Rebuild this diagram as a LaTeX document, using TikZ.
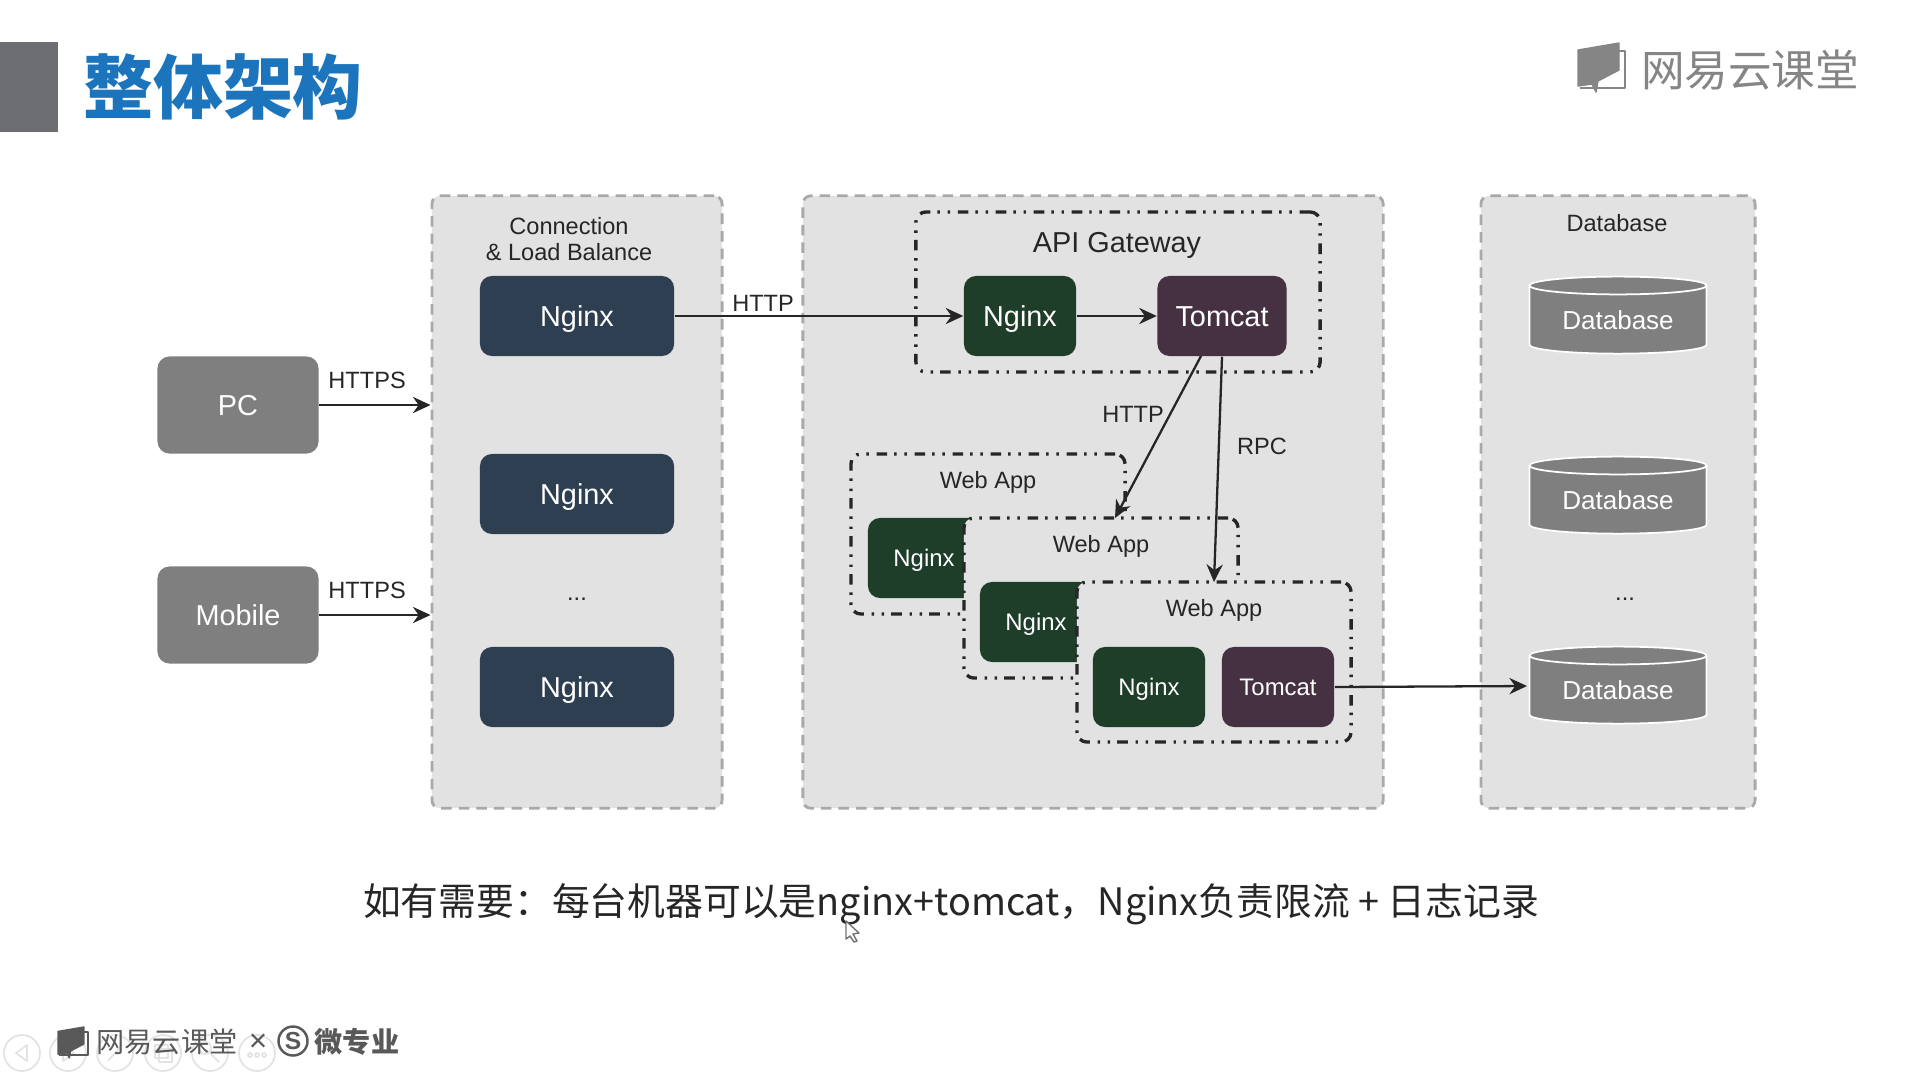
\documentclass[tikz,border=0pt]{standalone}
\usepackage{fontspec}
\setmainfont{Liberation Sans}
\newfontfamily\cjk{Noto Sans CJK SC}
\usetikzlibrary{arrows.meta,shapes.geometric}
\definecolor{panelgray}{HTML}{E2E2E2}
\definecolor{dashgray}{HTML}{A9A9A9}
\definecolor{boxgray}{HTML}{7F7F7F}
\definecolor{slategray}{HTML}{6D6E71}
\definecolor{navy}{HTML}{2F3F52}
\definecolor{forest}{HTML}{1F3E2A}
\definecolor{plum}{HTML}{453142}
\definecolor{titleblue}{HTML}{1C75BC}
\definecolor{logogray}{HTML}{858585}
\definecolor{logodark}{HTML}{595959}
\begin{document}
\begin{tikzpicture}[
    x=0.01cm,
    y=-0.01cm,
    line join=round,
    panel/.style={draw=dashgray,fill=panelgray,line width=0.8pt,dash pattern=on 3pt off 2pt,rounded corners=0.08cm,inner sep=0pt},
    groupbox/.style={draw=black!85,fill=panelgray,line width=0.95pt,dash pattern=on 3pt off 2.2pt on 0.7pt off 2.2pt on 0.7pt off 2pt,rounded corners=0.1cm,inner sep=0pt,minimum width=2.74cm,minimum height=1.6cm},
    card/.style={rounded corners=0.12cm,text=white,inner sep=0pt,font=\fontsize{8.2}{10}\selectfont,text height=5.9pt,text depth=0pt},
    pcbox/.style={card,fill=boxgray,minimum width=1.61cm,minimum height=0.97cm},
    lbnginx/.style={card,fill=navy,minimum width=1.94cm,minimum height=0.8cm},
    smallnginx/.style={card,fill=forest,minimum width=1.12cm,minimum height=0.8cm,font=\fontsize{6.8}{8}\selectfont,text height=4.9pt},
    smalltomcat/.style={card,fill=plum,minimum width=1.12cm,minimum height=0.8cm,font=\fontsize{6.8}{8}\selectfont,text height=4.9pt},
    dbnode/.style={cylinder,shape border rotate=90,aspect=0.16,draw=white,line width=0.5pt,fill=boxgray,text=white,inner sep=0pt,minimum width=1.77cm,minimum height=0.77cm,font=\fontsize{7.4}{9}\selectfont},
    lbl/.style={text=black!85,inner sep=0pt,font=\fontsize{6.7}{8}\selectfont,align=center,text height=4.9pt,text depth=0pt},
    link/.style={-{Stealth[length=5pt,width=4.6pt]},line width=0.65pt,black!85},
    logotxt/.style={text=logogray,inner sep=0pt},
    navbtn/.style={black!11,line width=0.5pt},
    booklogo/.pic={
        \fill[pic actions] (0,7) -- (41,0) -- (41,27) -- (20,38) -- (18,49) -- (14,41) -- (0,43) -- cycle;
        \draw[pic actions,fill=none,line width=0.6pt] (41,8) -- (47,8) -- (47,45) -- (2,45);
    }
]
    \useasboundingbox (0,0) rectangle (1907,1072);

    % 标题
    \fill[slategray] (0,42) rectangle (58,132);
    \node[text=titleblue,inner sep=0pt,font=\cjk\bfseries\fontsize{19.9}{24}\selectfont] (title) at (223,87) {整体架构};

    % 右上角标志
    \pic[fill=logogray,draw=logogray] at (1578,43) {booklogo};
    \node[logotxt,font=\cjk\fontsize{12.4}{15}\selectfont] (logotop) at (1750,70) {网易云课堂};

    % 三个面板
    \node[panel,minimum width=2.9cm,minimum height=6.12cm] (lbpanel) at (577,502) {};
    \node[panel,minimum width=5.8cm,minimum height=6.12cm] (apppanel) at (1093,502) {};
    \node[panel,minimum width=2.74cm,minimum height=6.12cm] (dbpanel) at (1618,502) {};

    % 客户端
    \node[pcbox] (pc) at (238,405) {PC};
    \node[pcbox] (mobile) at (238,615) {Mobile};

    % 负载均衡
    \node[lbl,text height=,text depth=] (lbtitle) at (569,239) {Connection\\[-0.5pt]\& Load Balance};
    \node[lbnginx] (lba) at (577,316) {Nginx};
    \node[lbnginx] (lbb) at (577,494) {Nginx};
    \node[lbl] (lbdots) at (577,592) {...};
    \node[lbnginx] (lbc) at (577,687) {Nginx};

    % 网关
    \node[groupbox,minimum width=4.04cm] (gate) at (1118,292) {};
    \node[lbl,font=\fontsize{8.2}{10}\selectfont,text height=5.9pt] (gatetitle) at (1117,242) {API Gateway};
    \node[card,fill=forest,minimum width=1.12cm,minimum height=0.8cm] (gatenginx) at (1020,316) {Nginx};
    \node[card,fill=plum,minimum width=1.29cm,minimum height=0.8cm] (gatetomcat) at (1222,316) {Tomcat};

    % Web App，后面的盖住前面的
    \node[groupbox] (appa) at (988,534) {};
    \node[lbl] (appatitle) at (988,480) {Web App};
    \node[smallnginx] (appanginx) at (924,558) {Nginx};
    \node[groupbox] (appb) at (1101,598) {};
    \node[lbl] (appbtitle) at (1101,544) {Web App};
    \node[smallnginx] (appbnginx) at (1036,622) {Nginx};
    \node[groupbox] (appc) at (1214,662) {};
    \node[lbl] (appctitle) at (1214,608) {Web App};
    \node[smallnginx] (appcnginx) at (1149,687) {Nginx};
    \node[smalltomcat] (appctomcat) at (1278,687) {Tomcat};

    % 数据库
    \node[lbl] (dbtitle) at (1617,223) {Database};
    \node[dbnode] (dba) at (1618,320) {Database};
    \node[dbnode] (dbb) at (1618,500) {Database};
    \node[lbl] (dbdots) at (1625,592) {...};
    \node[dbnode] (dbc) at (1618,690) {Database};

    % 连线
    \coordinate (tomcatl) at (1201,356);
    \coordinate (appbtop) at (1115,518);
    \coordinate (appctop) at (1214,582);
    \coordinate (dbcin) at (1527,686);
    \draw[link] (pc.east) -- (pc.east -| lbpanel.west) node[lbl,above=4.3pt,pos=0.43] (pclabel) {HTTPS};
    \draw[link] (mobile.east) -- (mobile.east -| lbpanel.west) node[lbl,above=4.3pt,pos=0.43] (mobilelabel) {HTTPS};
    \draw[link] (lba.east) -- (gatenginx.west);
    \node[lbl] (httptop) at (763,303) {HTTP};
    \draw[link] (gatenginx.east) -- (gatetomcat.west);
    \draw[link] (tomcatl) -- (appbtop);
    \node[lbl] (httpmid) at (1133,414) {HTTP};
    \draw[link] (gatetomcat.south) -- (appctop);
    \node[lbl] (rpc) at (1262,446) {RPC};
    \draw[link] (appctomcat.east) -- (dbcin);

    % 说明文字
    \node[inner sep=0pt,text=black!85,font=\cjk\fontsize{10.75}{13}\selectfont] (note) at (951,904) {如有需要：每台机器可以是nginx+tomcat，Nginx负责限流 + 日志记录};

    % 播放按钮
    \foreach \cx in {22,68,115,163,210,257}
        \draw[navbtn] (\cx,1053) circle (18);
    \draw[navbtn] (27,1045) -- (16,1053) -- (27,1061) -- cycle;
    \draw[navbtn] (63,1045) -- (74,1053) -- (63,1061) -- cycle;
    \draw[navbtn] (108,1061) -- (122,1045);
    \draw[navbtn] (155,1045) rectangle (168,1058);
    \draw[navbtn] (159,1049) rectangle (172,1062);
    \draw[navbtn] (205,1048) circle (6);
    \draw[navbtn] (210,1053) -- (219,1062);
    \foreach \cx in {250,257,264}
        \draw[navbtn] (\cx,1055) circle (2);

    % 左下角标志
    \pic[fill=logodark,draw=logodark,scale=0.63] at (58,1027) {booklogo};
    \node[logotxt,text=logodark,font=\cjk\fontsize{8}{10}\selectfont] (logoleft) at (167,1042) {网易云课堂};
    \node[logotxt,text=logodark,font=\fontsize{9}{10}\selectfont] (times) at (258,1043) {×};
    \node[circle,draw=logodark,line width=0.7pt,text=logodark,inner sep=0pt,minimum size=0.29cm,font=\bfseries\fontsize{7}{8}\selectfont] (sign) at (293,1041) {S};
    \node[logotxt,text=logodark,font=\cjk\bfseries\fontsize{8}{10}\selectfont] (logoright) at (357,1042) {微专业};

    % 鼠标
    \draw[black!55,fill=white,line width=0.4pt] (846,921) -- (859,933) -- (853,934) -- (857,941) -- (854,942) -- (850,936) -- (846,939) -- cycle;
\end{tikzpicture}
\end{document}
